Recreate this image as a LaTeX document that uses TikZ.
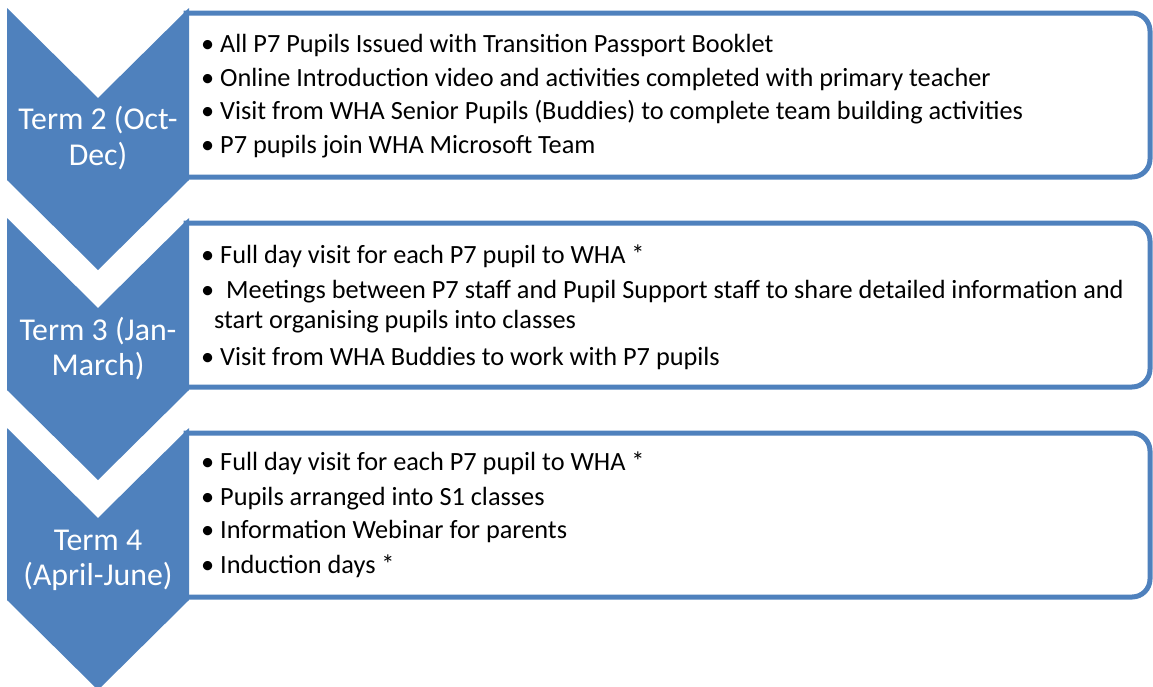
\documentclass[tikz,border=0pt]{standalone}
\usepackage{fontspec}
\setmainfont{Carlito}
\definecolor{ofblue}{RGB}{79,129,189}
\begin{document}
\begin{tikzpicture}[x=1pt,y=-1pt,
  chev/.style={fill=ofblue, draw=none},
  termbox/.style={draw=ofblue, line width=5pt, fill=white},
  term/.style={text=white, font=\fontsize{31.8}{36}\selectfont, anchor=base, inner sep=0pt},
  item/.style={text=black, font=\fontsize{26.3}{30}\selectfont, anchor=base west, inner sep=0pt}]
\useasboundingbox (0,0) rectangle (1153,686);
% boxes
\foreach \t in {0,210,420}{
  \draw[termbox] (186,13+\t) -- (1132,13+\t) arc[start angle=90,end angle=0,radius=18pt]
     -- (1150,159+\t) arc[start angle=0,end angle=-90,radius=18pt] -- (186,177+\t) -- cycle;
}
% chevrons
\foreach \t in {0,210,420}{
  \fill[chev] (7,8+\t) -- (98,98+\t) -- (189,8+\t) -- (189,180+\t) -- (98,270+\t) -- (7,180+\t) -- cycle;
}
% chevron labels
\node[term] (t2a) at (98,129) {Term 2 (Oct-};
\node[term] (t2b) at (98,165) {Dec)};
\node[term] (t3a) at (98,340) {Term 3 (Jan-};
\node[term] (t3b) at (98,375) {March)};
\node[term] (t4a) at (98,550) {Term 4};
\node[term] (t4b) at (98,585) {(April-June)};
% box 1
\node[item] (a1) at (201,52) {\textbullet\ All P7 Pupils Issued with Transition Passport Booklet};
\node[item] (a2) at (201,86) {\textbullet\ Online Introduction video and activities completed with primary teacher};
\node[item] (a3) at (201,119) {\textbullet\ Visit from WHA Senior Pupils (Buddies) to complete team building activities};
\node[item] (a4) at (201,153) {\textbullet\ P7 pupils join WHA Microsoft Team};
% box 2
\node[item] (b1) at (201,263) {\textbullet\ Full day visit for each P7 pupil to WHA *};
\node[item] (b2) at (201,298) {\textbullet\ \ Meetings between P7 staff and Pupil Support staff to share detailed information and};
\node[item] (b3) at (214,328) {start organising pupils into classes};
\node[item] (b4) at (201,365) {\textbullet\ Visit from WHA Buddies to work with P7 pupils};
% box 3
\node[item] (c1) at (201,470) {\textbullet\ Full day visit for each P7 pupil to WHA *};
\node[item] (c2) at (201,505) {\textbullet\ Pupils arranged into S1 classes};
\node[item] (c3) at (201,538) {\textbullet\ Information Webinar for parents};
\node[item] (c4) at (201,573) {\textbullet\ Induction days *};
\end{tikzpicture}
\end{document}
